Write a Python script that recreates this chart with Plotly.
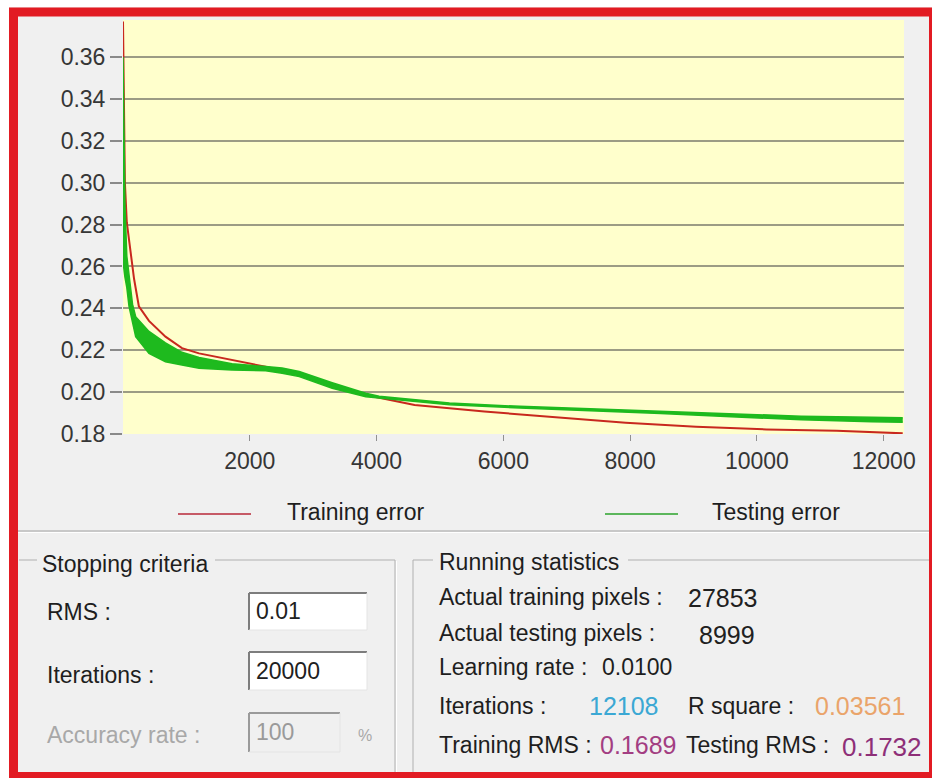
import plotly.graph_objects as go

# ---------------- data ----------------
train_iter = [0, 15, 30, 60, 120, 175, 250, 410, 670, 930, 1200, 1720, 2250, 2780,
              3300, 3830, 4350, 4600, 5700, 6810, 7930, 9040, 10150, 11260, 12300]
train_err = [0.377, 0.330, 0.300, 0.281, 0.268, 0.254, 0.241, 0.234, 0.2265, 0.221,
             0.2185, 0.2153, 0.2121, 0.2082, 0.2026, 0.1986, 0.1954, 0.1939, 0.1907,
             0.1880, 0.1854, 0.1835, 0.1822, 0.1816, 0.1803]

test_iter = [0, 10, 30, 60, 95, 150, 200, 410, 670, 930, 1200, 1720, 2250, 2510, 2780,
             3300, 3830, 4040, 5150, 6260, 7370, 8480, 9590, 10700, 11810, 12300]
test_err_high = [0.360, 0.330, 0.290, 0.265, 0.255, 0.242, 0.236, 0.229, 0.2235, 0.219,
                 0.2165, 0.2135, 0.2122, 0.2115, 0.2098, 0.2045, 0.1995, 0.1980, 0.1948,
                 0.1932, 0.1920, 0.1908, 0.1894, 0.1885, 0.1880, 0.1878]
test_err_low = [0.300, 0.260, 0.255, 0.250, 0.241, 0.233, 0.2265, 0.2185, 0.2145, 0.2130,
                0.2114, 0.2106, 0.2102, 0.2090, 0.2074, 0.2018, 0.1978, 0.1972, 0.1940,
                0.1924, 0.1912, 0.1898, 0.1882, 0.1868, 0.1858, 0.1856]

y_ticks = [0.18, 0.20, 0.22, 0.24, 0.26, 0.28, 0.30, 0.32, 0.34, 0.36]
x_ticks = [2000, 4000, 6000, 8000, 10000, 12000]
x_tick_labels = ["2000", "4000", "6000", "8000", "10000", "12000"]

series_names = ["Training error", "Testing error"]

stop_labels = ["RMS :", "Iterations :", "Accuracy rate :"]
stop_values = ["0.01", "20000", "100"]

stat_training_pixels = "27853"
stat_testing_pixels = "8999"
stat_learning_rate = "0.0100"
stat_iterations = "12108"
stat_r_square = "0.03561"
stat_training_rms = "0.1689"
stat_testing_rms = "0.1732"

# ---------------- layout helpers ----------------
W, H = 932, 778
ML, MR, MT, MB = 123, 28, 20, 344
PW, PH = W - ML - MR, H - MT - MB
FONT = "Liberation Sans, Arial, sans-serif"
RED = "#c8281e"
GREEN = "#1eba1e"
LS = 23  # label font size


def px(x):
    return (x - ML) / PW


def py(y):
    return (H - MB - y) / PH


shapes = []
annotations = []


def line(x0, y0, x1, y1, color, width=1):
    shapes.append(dict(type="line", xref="paper", yref="paper", x0=px(x0), y0=py(y0),
                       x1=px(x1), y1=py(y1), line=dict(color=color, width=width)))


def rect(x0, y0, x1, y1, fill, lc=None, lw=0):
    shapes.append(dict(type="rect", xref="paper", yref="paper", x0=px(x0), y0=py(y0),
                       x1=px(x1), y1=py(y1), fillcolor=fill,
                       line=dict(color=lc or fill, width=lw)))


def txt(x, y, s, size=LS, color="#1e1e1e", anchor="left"):
    annotations.append(dict(x=px(x), y=py(y), xref="paper", yref="paper", text=s,
                            showarrow=False, xanchor=anchor, yanchor="middle",
                            font=dict(size=size, color=color, family=FONT)))


def textbox(x0, y0, x1, y1, fill="#ffffff", dark="#7d7d7d", light="#e4e4e4"):
    rect(x0, y0, x1, y1, fill)
    line(x0, y0, x1, y0, dark, 2)
    line(x0, y0, x0, y1, dark, 2)
    line(x0, y1, x1, y1, light, 1)
    line(x1, y0, x1, y1, light, 1)


# ---------------- figure ----------------
fig = go.Figure()

fig.add_trace(go.Scatter(x=train_iter, y=train_err, mode="lines", name=series_names[0],
                         line=dict(color=RED, width=2), showlegend=False))
fig.add_trace(go.Scatter(x=test_iter, y=test_err_low, mode="lines", name=series_names[1],
                         line=dict(color=GREEN, width=1.5), showlegend=False))
fig.add_trace(go.Scatter(x=test_iter, y=test_err_high, mode="lines", name=series_names[1],
                         line=dict(color=GREEN, width=1.5), fill="tonexty",
                         fillcolor=GREEN, showlegend=False))

# white outside of the red frame
rect(0, 0, 9, H, "#ffffff")
rect(0, 0, W, 7, "#ffffff")

# legend
line(178, 514, 251, 514, "#c65a66", 2)
txt(285, 512, series_names[0])
line(605, 514, 678, 514, "#5cb65c", 2)
txt(710, 512, series_names[1])

# separator
line(18, 531, 932, 531, "#a0a0a0", 1)
line(18, 532.5, 932, 532.5, "#ffffff", 1)

# Stopping criteria group box
line(19, 560, 37, 560, "#b0b0b0", 1)
line(215, 560, 395, 560, "#b0b0b0", 1)
line(395, 560, 395, 778, "#b0b0b0", 1)
line(396.5, 561, 396.5, 778, "#ffffff", 1)
txt(40, 564, "Stopping criteria")

txt(45, 612, stop_labels[0])
textbox(249, 593, 367, 630)
txt(254, 611, stop_values[0], color="#202020")

txt(45, 675, stop_labels[1])
textbox(249, 652, 367, 690)
txt(254, 671, stop_values[1], color="#202020")

txt(45, 735, stop_labels[2], color="#a8a8a8")
textbox(249, 713, 340, 752, fill="#f0f0f0", dark="#9a9a9a", light="#e4e4e4")
txt(254, 732, stop_values[2], color="#9a9a9a")
txt(356, 735, "%", size=16, color="#a8a8a8")

# Running statistics group box
line(413, 560, 433, 560, "#b0b0b0", 1)
line(628, 560, 932, 560, "#b0b0b0", 1)
line(413, 560, 413, 778, "#b0b0b0", 1)
txt(437, 562, "Running statistics")

txt(437, 597, "Actual training pixels :")
txt(686, 598, stat_training_pixels, size=25, color="#202020")
txt(437, 633, "Actual testing pixels :")
txt(697, 635, stat_testing_pixels, size=25, color="#202020")
txt(437, 667, "Learning rate :")
txt(600, 667, stat_learning_rate, size=LS, color="#1e1e1e")
txt(437, 706, "Iterations :")
txt(587, 706, stat_iterations, size=25, color="#3ba8d4")
txt(686, 706, "R square :")
txt(813, 706, stat_r_square, size=25, color="#eaa46a")
txt(437, 745, "Training RMS :")
txt(598, 745, stat_training_rms, size=25, color="#a33e82")
txt(684, 745, "Testing RMS :")
txt(840, 747, stat_testing_rms, size=26, color="#8e2f78")

# red frame
shapes.append(dict(type="rect", xref="paper", yref="paper", x0=px(13.5), y0=py(12),
                   x1=px(933.5), y1=py(776.5), fillcolor="rgba(0,0,0,0)",
                   line=dict(color="#e21b23", width=9)))

fig.update_layout(
    width=W, height=H, autosize=False,
    margin=dict(l=ML, r=MR, t=MT, b=MB, pad=0),
    paper_bgcolor="#f0f0f0", plot_bgcolor="#ffffcc",
    showlegend=False,
    shapes=shapes, annotations=annotations,
    font=dict(family=FONT),
)
fig.update_xaxes(range=[0, 12320], tickvals=x_ticks, ticktext=x_tick_labels,
                 ticks="outside", ticklen=6,
                 tickcolor="#909090", tickwidth=1, showgrid=False, zeroline=False,
                 showline=False, tickfont=dict(size=23, color="#363636", family=FONT))
fig.update_yaxes(range=[0.18, 0.3777], tickvals=y_ticks, tickformat=".2f",
                 ticks="outside", ticklen=12, tickcolor="#8a8a8a", tickwidth=1.5,
                 showgrid=True, gridcolor="#9c9c84", gridwidth=1.5, zeroline=False,
                 showline=False, tickfont=dict(size=23, color="#363636", family=FONT))

fig.write_html("out.html", config={"displayModeBar": False},
               post_script="document.body.style.margin='0';document.body.style.overflow='hidden';")
